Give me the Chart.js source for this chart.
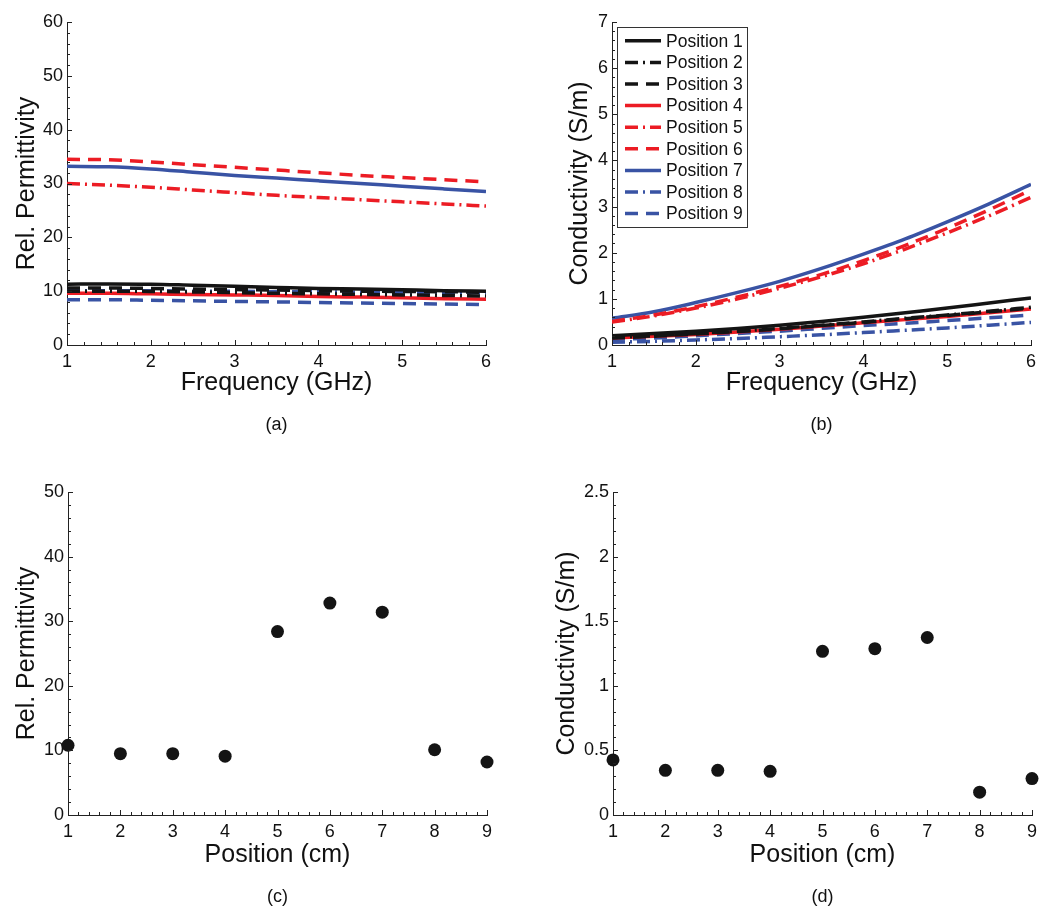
<!DOCTYPE html>
<html>
<head>
<meta charset="utf-8">
<script src="https://cdn.jsdelivr.net/npm/chart.js@4.4.1/dist/chart.umd.min.js"></script>
<style>
  html, body { margin: 0; padding: 0; background: #ffffff; }
  #wrap { position: relative; width: 1050px; height: 917px; background: #fff; overflow: hidden; }
  canvas { position: absolute; }
</style>
</head>
<body>
<div id="wrap">
  <canvas id="ca" width="525" height="458" style="left:0px;top:0px;"></canvas>
  <canvas id="cb" width="525" height="458" style="left:525px;top:0px;"></canvas>
  <canvas id="cc" width="525" height="459" style="left:0px;top:458px;"></canvas>
  <canvas id="cd" width="525" height="459" style="left:525px;top:458px;"></canvas>
</div>
<script>
// ---------------- data ----------------
const frequency = [1, 1.5, 2, 2.5, 3, 3.5, 4, 4.5, 5, 5.5, 6];
const seriesNames = ['Position 1','Position 2','Position 3','Position 4','Position 5','Position 6','Position 7','Position 8','Position 9'];

// (a) relative permittivity vs frequency
const perm1 = [11.3, 11.35, 11.3, 11.1, 10.9, 10.7, 10.5, 10.4, 10.25, 10.1, 10.0];
const perm2 = [10.0, 10.0, 9.95, 9.85, 9.75, 9.6, 9.5, 9.4, 9.3, 9.2, 9.1];
const perm3 = [10.6, 10.6, 10.5, 10.4, 10.3, 10.2, 10.1, 10.0, 9.95, 9.9, 9.8];
const perm4 = [9.6, 9.6, 9.5, 9.4, 9.3, 9.2, 9.0, 8.9, 8.8, 8.6, 8.5];
const perm5 = [30.0, 29.7, 29.3, 28.8, 28.3, 27.8, 27.4, 27.0, 26.6, 26.2, 25.8];
const perm6 = [34.5, 34.4, 34.0, 33.5, 33.0, 32.5, 32.0, 31.5, 31.1, 30.7, 30.3];
const perm7 = [33.2, 33.1, 32.7, 32.1, 31.5, 31.0, 30.5, 30.0, 29.5, 29.0, 28.5];
const perm8 = [10.1, 10.1, 10.1, 10.0, 10.0, 9.9, 9.9, 9.8, 9.8, 9.8, 9.7];
const perm9 = [8.4, 8.4, 8.3, 8.2, 8.1, 8.0, 7.9, 7.8, 7.7, 7.6, 7.5];

// (b) conductivity vs frequency
const cond1 = [0.2, 0.25, 0.3, 0.36, 0.43, 0.51, 0.6, 0.7, 0.8, 0.91, 1.02];
const cond2 = [0.16, 0.2, 0.25, 0.3, 0.36, 0.43, 0.5, 0.58, 0.65, 0.73, 0.82];
const cond3 = [0.15, 0.19, 0.24, 0.29, 0.35, 0.42, 0.49, 0.57, 0.64, 0.72, 0.8];
const cond4 = [0.15, 0.19, 0.23, 0.28, 0.34, 0.41, 0.48, 0.55, 0.62, 0.7, 0.78];
const cond5 = [0.5, 0.63, 0.8, 1.0, 1.23, 1.48, 1.76, 2.08, 2.43, 2.8, 3.2];
const cond6 = [0.51, 0.65, 0.83, 1.04, 1.27, 1.53, 1.83, 2.16, 2.53, 2.93, 3.36];
const cond7 = [0.58, 0.72, 0.92, 1.14, 1.38, 1.66, 1.97, 2.3, 2.67, 3.06, 3.48];
const cond8 = [0.06, 0.08, 0.11, 0.14, 0.18, 0.22, 0.27, 0.32, 0.37, 0.43, 0.49];
const cond9 = [0.12, 0.15, 0.2, 0.25, 0.3, 0.36, 0.42, 0.47, 0.53, 0.59, 0.65];

// (c), (d) values vs position
const positions = [1, 2, 3, 4, 5, 6, 7, 8, 9];
const permByPosition = [10.8, 9.5, 9.5, 9.1, 28.4, 32.8, 31.4, 10.1, 8.2];
const condByPosition = [0.426, 0.346, 0.346, 0.338, 1.267, 1.287, 1.374, 0.177, 0.282];

// ---------------- styles ----------------
const BLACK = '#141414', RED = '#ec1c24', BLUE = '#3953a4';
const SOLID = [], DASHDOT = [13, 5, 2, 5], DASHED = [13, 8];
const lineColors = [BLACK, BLACK, BLACK, RED, RED, RED, BLUE, BLUE, BLUE];
const lineDashes = [SOLID, DASHDOT, DASHED, SOLID, DASHDOT, DASHED, SOLID, DASHDOT, DASHED];
const FONT = "'Liberation Sans', Arial, Helvetica, sans-serif";
const AXIS = '#222222';

function lineDatasets(arrays) {
  return arrays.map((arr, i) => ({
    label: seriesNames[i],
    data: arr.map((v, k) => ({ x: frequency[k], y: v })),
    borderColor: lineColors[i],
    backgroundColor: lineColors[i],
    borderDash: lineDashes[i],
    borderWidth: 3.5,
    pointRadius: 0,
    cubicInterpolationMode: 'monotone',
    fill: false
  }));
}

const fmt = (v) => String(Number(Number(v).toFixed(3)));

// inward major/minor ticks
const inwardTicks = {
  id: 'inwardTicks',
  afterDraw(chart, args, opts) {
    const ctx = chart.ctx;
    const ca = chart.chartArea;
    const xs = chart.scales.x, ys = chart.scales.y;
    ctx.save();
    ctx.strokeStyle = AXIS;
    ctx.lineWidth = 1;
    ctx.beginPath();
    const nx = Math.round((xs.max - xs.min) / opts.xMinor);
    for (let i = 0; i <= nx; i++) {
      const v = xs.min + i * opts.xMinor;
      const r = (v - xs.min) / opts.xMajor;
      const len = Math.abs(r - Math.round(r)) < 1e-6 ? 5 : 3;
      const px = Math.round(xs.getPixelForValue(v)) + 0.5;
      ctx.moveTo(px, ca.bottom);
      ctx.lineTo(px, ca.bottom - len);
    }
    const ny = Math.round((ys.max - ys.min) / opts.yMinor);
    for (let i = 0; i <= ny; i++) {
      const v = ys.min + i * opts.yMinor;
      const r = v / opts.yMajor;
      const len = Math.abs(r - Math.round(r)) < 1e-6 ? 5 : 3;
      const py = Math.round(ys.getPixelForValue(v)) + 0.5;
      ctx.moveTo(ca.left, py);
      ctx.lineTo(ca.left + len, py);
    }
    ctx.stroke();
    ctx.restore();
  }
};

// sub-figure caption, centred under the axes
const subCaption = {
  id: 'subCaption',
  afterDraw(chart, args, opts) {
    const ctx = chart.ctx;
    const ca = chart.chartArea;
    ctx.save();
    ctx.font = '18px ' + FONT;
    ctx.fillStyle = '#111';
    ctx.textAlign = 'center';
    ctx.textBaseline = 'middle';
    ctx.fillText(opts.text, (ca.left + ca.right) / 2, opts.y);
    ctx.restore();
  }
};

// boxed legend inside the plot area (MATLAB style), built from the datasets
const boxLegend = {
  id: 'boxLegend',
  afterDatasetsDraw(chart, args, opts) {
    if (!opts || !opts.display) return;
    const ctx = chart.ctx;
    const ca = chart.chartArea;
    const sets = chart.data.datasets;
    const x0 = ca.left + opts.offsetX, y0 = ca.top + opts.offsetY;
    ctx.save();
    ctx.font = opts.fontSize + 'px ' + FONT;
    let maxText = 0;
    sets.forEach(d => { maxText = Math.max(maxText, ctx.measureText(d.label).width); });
    const w = opts.padL + opts.sample + opts.gap + maxText + opts.padR;
    const h = opts.padT + sets.length * opts.row + opts.padB;
    ctx.fillStyle = '#ffffff';
    ctx.fillRect(x0, y0, w, h);
    ctx.strokeStyle = '#333';
    ctx.lineWidth = 1;
    ctx.strokeRect(Math.round(x0) + 0.5, Math.round(y0) + 0.5, Math.round(w), Math.round(h));
    sets.forEach((d, i) => {
      const cy = y0 + opts.padT + (i + 0.5) * opts.row;
      ctx.beginPath();
      ctx.setLineDash(d.borderDash || []);
      ctx.strokeStyle = d.borderColor;
      ctx.lineWidth = d.borderWidth;
      ctx.moveTo(x0 + opts.padL, cy);
      ctx.lineTo(x0 + opts.padL + opts.sample, cy);
      ctx.stroke();
      ctx.setLineDash([]);
      ctx.fillStyle = '#111';
      ctx.textBaseline = 'middle';
      ctx.textAlign = 'left';
      ctx.fillText(d.label, x0 + opts.padL + opts.sample + opts.gap, cy + 1);
    });
    ctx.restore();
  }
};

function makePanel(id, o) {
  const c = document.getElementById(id);
  const H = c.height, W = c.width;
  const xBottom = o.xTitleY + 15;
  return new Chart(c, {
    type: o.type,
    data: { datasets: o.datasets },
    options: {
      responsive: false,
      animation: false,
      layout: { padding: { top: o.top, right: W - o.right, left: 0, bottom: H - xBottom } },
      plugins: {
        legend: { display: false },
        tooltip: { enabled: false },
        title: { display: false },
        inwardTicks: o.tickOpts,
        subCaption: { text: o.sub, y: o.subY },
        boxLegend: o.boxLegend || { display: false }
      },
      scales: {
        x: {
          type: 'linear',
          min: o.xMin, max: o.xMax,
          afterFit: (s) => { s.height = xBottom - o.bottom; },
          ticks: { stepSize: o.xStep, color: '#111', padding: 6, font: { family: FONT, size: 18 }, callback: fmt },
          grid: { display: true, drawOnChartArea: false, drawTicks: false },
          border: { display: true, color: AXIS, width: 1 },
          title: {
            display: true, text: o.xTitle, color: '#111',
            font: { family: FONT, size: 25, weight: 'normal' },
            padding: { top: 0, bottom: 0 }
          }
        },
        y: {
          type: 'linear',
          min: o.yMin, max: o.yMax,
          afterFit: (s) => { s.width = o.left; },
          ticks: { stepSize: o.yStep, color: '#111', padding: 4, font: { family: FONT, size: 18 }, callback: fmt },
          grid: { display: true, drawOnChartArea: false, drawTicks: false },
          border: { display: true, color: AXIS, width: 1 },
          title: {
            display: true, text: o.yTitle, color: '#111',
            font: { family: FONT, size: 25, weight: 'normal' },
            padding: { top: o.yTitleX - 15, bottom: 0 }
          }
        }
      }
    },
    plugins: [inwardTicks, boxLegend, subCaption]
  });
}

const permDatasets = lineDatasets([perm1, perm2, perm3, perm4, perm5, perm6, perm7, perm8, perm9]);
const condDatasets = lineDatasets([cond1, cond2, cond3, cond4, cond5, cond6, cond7, cond8, cond9]);

function scatterDataset(vals) {
  return [{
    label: 'values',
    data: vals.map((v, k) => ({ x: positions[k], y: v })),
    pointRadius: 6.5,
    pointBackgroundColor: BLACK,
    pointBorderColor: BLACK,
    pointBorderWidth: 0,
    showLine: false,
    clip: false
  }];
}

makePanel('ca', {
  type: 'line', datasets: permDatasets,
  left: 67, right: 486, top: 22, bottom: 345,
  xMin: 1, xMax: 6, xStep: 1, yMin: 0, yMax: 60, yStep: 10,
  xTitle: 'Frequency (GHz)', yTitle: 'Rel. Permittivity',
  xTitleY: 383, yTitleX: 27, subY: 425, sub: '(a)',
  tickOpts: { xMajor: 1, xMinor: 0.2, yMajor: 10, yMinor: 2 }
});

makePanel('cb', {
  type: 'line', datasets: condDatasets,
  left: 87, right: 506, top: 22, bottom: 345,
  xMin: 1, xMax: 6, xStep: 1, yMin: 0, yMax: 7, yStep: 1,
  xTitle: 'Frequency (GHz)', yTitle: 'Conductivity (S/m)',
  xTitleY: 383, yTitleX: 55, subY: 425, sub: '(b)',
  tickOpts: { xMajor: 1, xMinor: 0.2, yMajor: 1, yMinor: 0.2 },
  boxLegend: { display: true, offsetX: 5, offsetY: 5, padL: 8, sample: 36, gap: 5, padR: 4, padT: 3, padB: 3, row: 21.6, fontSize: 17.5 }
});

makePanel('cc', {
  type: 'scatter', datasets: scatterDataset(permByPosition),
  left: 68, right: 487, top: 34, bottom: 357,
  xMin: 1, xMax: 9, xStep: 1, yMin: 0, yMax: 50, yStep: 10,
  xTitle: 'Position (cm)', yTitle: 'Rel. Permittivity',
  xTitleY: 397, yTitleX: 27, subY: 439, sub: '(c)',
  tickOpts: { xMajor: 1, xMinor: 0.2, yMajor: 10, yMinor: 2 }
});

makePanel('cd', {
  type: 'scatter', datasets: scatterDataset(condByPosition),
  left: 88, right: 507, top: 34, bottom: 357,
  xMin: 1, xMax: 9, xStep: 1, yMin: 0, yMax: 2.5, yStep: 0.5,
  xTitle: 'Position (cm)', yTitle: 'Conductivity (S/m)',
  xTitleY: 397, yTitleX: 42, subY: 439, sub: '(d)',
  tickOpts: { xMajor: 1, xMinor: 0.2, yMajor: 0.5, yMinor: 0.1 }
});
</script>
</body>
</html>
